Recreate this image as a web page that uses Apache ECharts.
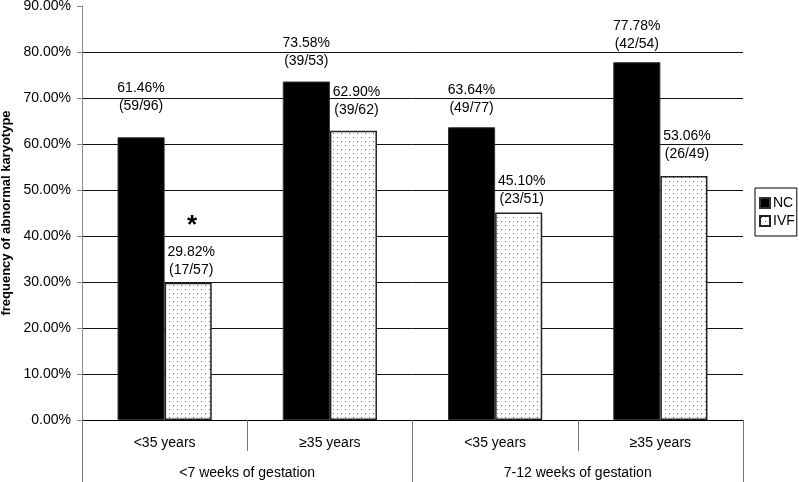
<!DOCTYPE html>
<html><head><meta charset="utf-8">
<script src="https://cdn.jsdelivr.net/npm/echarts@6/dist/echarts.min.js"></script>
<style>html,body{margin:0;padding:0;background:#fff}#c{width:799px;height:482px}</style>
</head><body><div id="c"></div>
<script>
// ---- data ----
const ageCategories = ['<35 years', '≥35 years', '<35 years', '≥35 years'];
const gestationGroups = ['<7 weeks of gestation', '7-12 weeks of gestation'];
const ncValues = [61.46, 73.58, 63.64, 77.78];
const ncCounts = ['59/96', '39/53', '49/77', '42/54'];
const ivfValues = [29.82, 62.90, 45.10, 53.06];
const ivfCounts = ['17/57', '39/62', '23/51', '26/49'];
const ivfSignificance = ['*', '', '', ''];
const yMin = 0, yMax = 90, yStep = 10;

// ---- style ----
const FONT = '"Liberation Sans", Arial, sans-serif';
const ncLabelDist = [22, 11, 10, 9];
const ivfLabelDist = [4, 12, 4, 13];

function dotPattern() {
  const c = document.createElement('canvas');
  c.width = 8; c.height = 8;
  const g = c.getContext('2d');
  g.fillStyle = '#fff'; g.fillRect(0, 0, 8, 8);
  g.fillStyle = '#555'; g.fillRect(1, 1, 1, 1); g.fillRect(5, 5, 1, 1);
  g.fillStyle = '#bbb'; g.fillRect(5, 1, 1, 1); g.fillRect(1, 5, 1, 1);
  return { image: c, repeat: 'repeat' };
}
const pattern = dotPattern();

const chart = echarts.init(document.getElementById('c'), null, { renderer: 'canvas' });

const splitColors = [];
for (let v = yMin; v <= yMax; v += yStep) splitColors.push(v === yMax ? 'rgba(0,0,0,0)' : '#111');

const textRich = { t: { fontSize: 14, lineHeight: 18, color: '#000', fontFamily: FONT, align: 'center' },
                   s: { fontSize: 26, fontWeight: 'bold', lineHeight: 34, color: '#000', fontFamily: FONT, align: 'center', padding: [0, 0, 0, 2] } };

chart.setOption({
  animation: false,
  backgroundColor: '#fff',
  textStyle: { fontFamily: FONT },
  grid: { left: 82, right: 56, top: 6, bottom: 62, containLabel: false, outerBoundsMode: 'none' },
  legend: {
    orient: 'vertical', left: 755, top: 188,
    borderColor: '#000', borderWidth: 1, padding: [8, 2, 8, 4], itemGap: 4,
    itemWidth: 10, itemHeight: 10, icon: 'rect',
    textStyle: { fontSize: 14, color: '#000', fontFamily: FONT, padding: [0, 0, 0, -2] },
    data: ['NC', 'IVF']
  },
  xAxis: [
    {
      type: 'category', data: ageCategories, position: 'bottom',
      axisLine: { lineStyle: { color: '#000', width: 1 } },
      axisTick: { show: true, length: 31, interval: 0, lineStyle: { color: '#777' } },
      axisLabel: { interval: 0, margin: 16, fontSize: 14, color: '#000', fontFamily: FONT }
    },
    {
      type: 'category', data: gestationGroups, position: 'bottom', gridIndex: 0,
      axisLine: { show: false },
      axisTick: { show: true, length: 63, interval: 0, lineStyle: { color: '#777' } },
      axisLabel: { interval: 0, margin: 46, fontSize: 14, color: '#000', fontFamily: FONT },
      splitLine: { show: false }
    }
  ],
  yAxis: {
    type: 'value', min: yMin, max: yMax, interval: yStep,
    name: 'frequency of abnormal karyotype', nameLocation: 'middle', nameGap: 68,
    nameTextStyle: { fontSize: 13, fontWeight: 'bold', color: '#000', fontFamily: FONT },
    axisLine: { show: true, lineStyle: { color: '#888' } },
    axisTick: { show: true, length: 5, lineStyle: { color: '#888' } },
    axisLabel: { margin: 11, fontSize: 14, color: '#000', fontFamily: FONT,
      formatter: v => v.toFixed(2) + '%' },
    splitLine: { show: true, lineStyle: { color: splitColors, width: 1 } }
  },
  series: [
    {
      name: 'NC', type: 'bar', xAxisIndex: 0, barGap: '0%', barCategoryGap: '43%',
      itemStyle: { color: '#000', borderColor: '#333', borderWidth: 1 },
      data: ncValues.map((v, i) => ({
        value: v,
        label: { show: true, position: 'top', distance: ncLabelDist[i], rich: textRich,
          formatter: '{t|' + v.toFixed(2) + '%}\n{t|(' + ncCounts[i] + ')}' }
      }))
    },
    {
      name: 'IVF', type: 'bar', xAxisIndex: 0,
      itemStyle: { color: pattern, borderColor: '#222', borderWidth: 1.5 },
      data: ivfValues.map((v, i) => ({
        value: v,
        label: { show: true, position: 'top', distance: ivfLabelDist[i], offset: [3, 0], rich: textRich,
          formatter: (ivfSignificance[i] ? '{s|' + ivfSignificance[i] + '}\n' : '') +
            '{t|' + v.toFixed(2) + '%}\n{t|(' + ivfCounts[i] + ')}' }
      }))
    },
    { name: 'groups', type: 'bar', xAxisIndex: 1, data: [], silent: true }
  ]
});
</script></body></html>
